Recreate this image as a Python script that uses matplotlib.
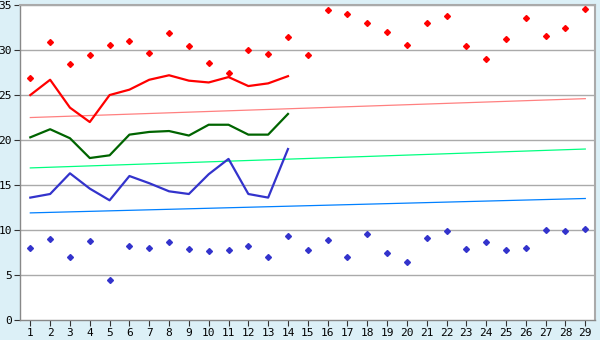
#!/usr/bin/env python3
"""Recreate the scatter / line / trend chart."""

import matplotlib

matplotlib.use("Agg")
import matplotlib.pyplot as plt

x_all = list(range(1, 30))
x_line = list(range(1, 15))

red_points = [26.9, 30.9, 28.5, 29.4, 30.6, 31.0, 29.7, 31.9, 30.4, 28.6,
              27.4, 30.0, 29.6, 31.4, 29.4, 34.4, 34.0, 33.0, 32.0, 30.6,
              33.0, 33.8, 30.5, 29.0, 31.2, 33.6, 31.6, 32.4, 34.6]
blue_points = [8.0, 9.0, 7.0, 8.8, 4.4, 8.2, 8.0, 8.7, 7.9, 7.7,
               7.8, 8.2, 7.0, 9.3, 7.8, 8.9, 7.0, 9.6, 7.4, 6.4,
               9.1, 9.9, 7.9, 8.7, 7.8, 8.0, 10.0, 9.9, 10.1]

red_line = [25.0, 26.7, 23.6, 22.0, 25.0, 25.6, 26.7, 27.2, 26.6, 26.4,
            27.0, 26.0, 26.3, 27.1]
green_line = [20.3, 21.2, 20.2, 18.0, 18.3, 20.6, 20.9, 21.0, 20.5, 21.7,
              21.7, 20.6, 20.6, 22.9]
blue_line = [13.6, 14.0, 16.3, 14.6, 13.3, 16.0, 15.2, 14.3, 14.0, 16.2,
             17.9, 14.0, 13.6, 19.0]

trend_x = [1, 29]
red_trend = [22.5, 24.6]
green_trend = [16.9, 19.0]
blue_trend = [11.9, 13.5]

y_ticks = [0, 5, 10, 15, 20, 25, 30, 35]

fig = plt.figure(figsize=(6.0, 3.4), dpi=100)
fig.patch.set_facecolor("#dcf0f7")
ax = fig.add_axes([0.034, 0.059, 0.958, 0.926])
ax.set_facecolor("white")

for y in y_ticks[1:]:
    ax.axhline(y, color="#aaaaaa", linewidth=1.0, zorder=1)

ax.plot(trend_x, red_trend, color="#ff8080", linewidth=0.9, zorder=2)
ax.plot(trend_x, green_trend, color="#00ff80", linewidth=0.9, zorder=2)
ax.plot(trend_x, blue_trend, color="#0080ff", linewidth=0.9, zorder=2)

ax.plot(x_line, red_line, color="#ff0000", linewidth=1.6, zorder=3)
ax.plot(x_line, green_line, color="#006400", linewidth=1.6, zorder=3)
ax.plot(x_line, blue_line, color="#3333cc", linewidth=1.6, zorder=3)

ax.plot(x_all, red_points, linestyle="none", marker="D", markersize=3.0,
        color="#ff0000", zorder=4)
ax.plot(x_all, blue_points, linestyle="none", marker="D", markersize=3.0,
        color="#3333cc", zorder=4)

ax.set_xlim(0.5, 29.5)
ax.set_ylim(0, 35)
ax.set_xticks(x_all)
ax.set_yticks(y_ticks)
ax.tick_params(axis="both", labelsize=8, color="#333333", length=4, pad=2)
for label in ax.get_xticklabels() + ax.get_yticklabels():
    label.set_family("DejaVu Sans Mono")

for side in ["top", "right"]:
    ax.spines[side].set_color("#aaaaaa")
    ax.spines[side].set_linewidth(1.5)
for side in ["left", "bottom"]:
    ax.spines[side].set_color("#888888")
    ax.spines[side].set_linewidth(1.0)

fig.savefig("out.png", facecolor=fig.get_facecolor())
plt.close(fig)
